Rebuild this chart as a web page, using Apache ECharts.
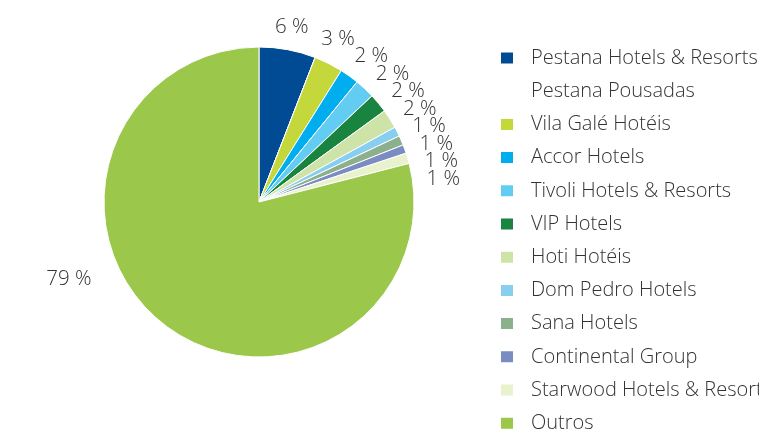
<!DOCTYPE html>
<html>
<head>
<meta charset="utf-8">
<script src="https://cdn.jsdelivr.net/npm/echarts@6/dist/echarts.min.js"></script>
<style>
html,body{margin:0;padding:0;background:#fff;}
#chart{width:759px;height:435px;}
</style>
</head>
<body>
<div id="chart"></div>
<script>
// ---- data ----
const categories = ["Pestana Hotels & Resorts","Pestana Pousadas","Vila Galé Hotéis","Accor Hotels","Tivoli Hotels & Resorts","VIP Hotels","Hoti Hotéis","Dom Pedro Hotels","Sana Hotels","Continental Group","Starwood Hotels & Resorts","Outros"];
const values = [5.9, 0, 3.0, 2.0, 2.1, 2.0, 2.0, 1.0, 1.0, 0.9, 1.1, 79.0];
const colors = ["#004B93","#FFFFFF","#C4D73B","#00AEEF","#63CCF3","#198440","#CDE3A7","#87CEF0","#8DB08C","#7B8CC2","#E8F2CC","#9BC84A"];

// ---- layout / style ----
const FONT = "'Open Sans', 'Noto Sans', sans-serif";
const FW = 350;
const CX = 259, CY = 202, R = 155;
const LABEL_FS = 20.5;
const LABEL_GAP = 11.5;
const LABEL_MIN_VGAP = 17.4;
const LABEL_RIGHT_LIMIT = 460;
const BIG_LABEL_ANGLE = 248;  // degrees clockwise from top
const BIG_LABEL_DIST = 205;

const fmt = v => Math.round(v) + ' %';

function computeLabelPositions() {
  const ctx = document.createElement('canvas').getContext('2d');
  ctx.font = FW + ' ' + LABEL_FS + 'px ' + FONT;
  const total = values.reduce((a, b) => a + b, 0);
  let cum = 0;
  const items = [];
  values.forEach((v, i) => {
    const mid = (cum + v / 2) / total * 2 * Math.PI;
    cum += v;
    if (v > 0) items.push({ i, theta: mid, w: ctx.measureText(fmt(v)).width, h: 16, big: v > 50, push: 0 });
  });
  const place = it => {
    const s = Math.sin(it.theta), c = Math.cos(it.theta);
    const D = R + LABEL_GAP + it.w / 2 * Math.abs(s) + it.h / 2 * Math.abs(c) + it.push;
    it.x = CX + D * s;
    it.y = CY - D * c;
  };
  const small = items.filter(it => !it.big);
  small.forEach(place);
  for (let iter = 0; iter < 5000; iter++) {
    let moved = false;
    for (let k = 0; k < small.length - 1; k++) {
      const a = small[k], b = small[k + 1];
      const ov = LABEL_MIN_VGAP - (b.y - a.y);
      const oh = (a.w + b.w) / 2 + 2 - Math.abs(b.x - a.x);
      if (ov > 0 && oh > 0) {
        a.theta -= 0.0002; b.theta += 0.0008;
        b.push = Math.min(b.push + 0.01, 8);
        place(a); place(b);
        moved = true;
      }
    }
    if (!moved) break;
  }
  small.forEach(it => { it.x = Math.min(it.x, LABEL_RIGHT_LIMIT - it.w / 2); });
  items.filter(it => it.big).forEach(it => {
    const t = BIG_LABEL_ANGLE * Math.PI / 180;
    it.x = CX + BIG_LABEL_DIST * Math.sin(t);
    it.y = CY - BIG_LABEL_DIST * Math.cos(t);
  });
  const map = {};
  items.forEach(it => map[it.i] = it);
  return map;
}
const labelPos = computeLabelPositions();

const data = categories.map((c, i) => ({
  name: c,
  value: values[i],
  itemStyle: { color: colors[i] },
  label: { show: values[i] > 0 }
}));

const chart = echarts.init(document.getElementById('chart'), null, {renderer: 'canvas'});
chart.setOption({
  animation: false,
  backgroundColor: '#ffffff',
  legend: {
    orient: 'vertical',
    left: 499,
    top: 47,
    padding: 0,
    itemWidth: 14,
    itemHeight: 13,
    itemGap: 11.2,
    icon: 'rect',
    selectedMode: false,
    textStyle: { fontFamily: FONT, fontWeight: FW, fontSize: 20, lineHeight: 22, color: '#333333', padding: [0, 0, 0, 12] },
    data: categories
  },
  series: [{
    type: 'pie',
    center: [CX, CY],
    radius: R,
    startAngle: 90,
    clockwise: true,
    avoidLabelOverlap: false,
    itemStyle: { borderColor: '#ffffff', borderWidth: 1 },
    label: {
      show: true,
      position: 'outside',
      fontFamily: FONT,
      fontWeight: FW,
      fontSize: LABEL_FS,
      color: '#333333',
      formatter: p => fmt(p.value)
    },
    labelLine: { show: false },
    labelLayout: p => {
      const lp = labelPos[p.dataIndex];
      if (!lp) return {};
      return { x: lp.x, y: lp.y, align: 'center', verticalAlign: 'middle' };
    },
    emphasis: { disabled: true },
    data: data
  }]
});
</script>
</body>
</html>
